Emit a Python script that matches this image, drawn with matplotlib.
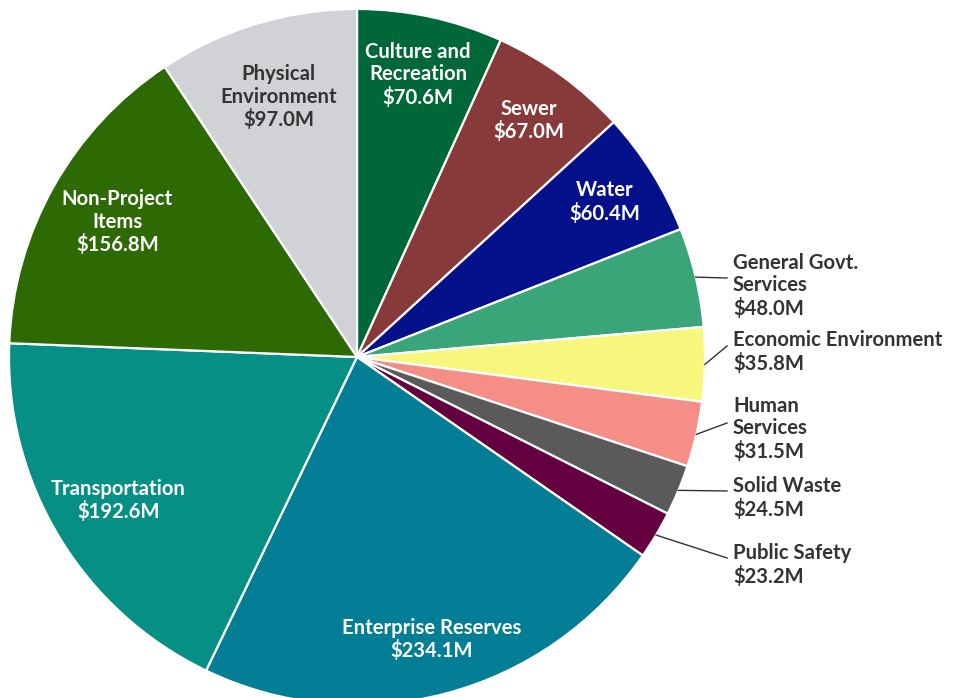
import matplotlib.pyplot as plt
import numpy as np

# capital budget by program area ($ millions), clockwise from 12 o'clock
categories = ["Culture and\nRecreation", "Sewer", "Water", "General Govt.\nServices",
              "Economic Environment", "Human\nServices", "Solid Waste", "Public Safety",
              "Enterprise Reserves", "Transportation", "Non-Project\nItems",
              "Physical\nEnvironment"]
values = [70.6, 67.0, 60.4, 48.0, 35.8, 31.5, 24.5, 23.2, 234.1, 192.6, 156.8, 97.0]
colors = ["#006838", "#873a39", "#05108b", "#3ba57a", "#f7f77d", "#f48e86",
          "#5a5a5a", "#650040", "#047d96", "#068f85", "#2d6a04", "#d1d2d6"]

# which slices get their label outside with a leader line
outside = [False, False, False, True, True, True, True, True,
           False, False, False, False]
# radial position of inside labels (fraction of radius)
inner_r = [0.83, 0.84, 0.84, 0, 0, 0, 0, 0, 0.84, 0.80, 0.79, 0.78]
label_color = ["white"] * 11 + ["#333333"]
# leader line end (x, y) and text top-left for outside labels, in pixels from top
leader_end = {3: (727, 278), 4: (727, 346), 5: (727, 423), 6: (727, 491), 7: (727, 558)}
text_top = {3: 253, 4: 330, 5: 396, 6: 476, 7: 543}

W, H = 958, 698
cx, cy, R = 357, 357, 348

fig = plt.figure(figsize=(W / 100, H / 100), dpi=100)
ax = fig.add_axes([0, 0, 1, 1])

wedges, _ = ax.pie(values, colors=colors, startangle=90, counterclock=False,
                   radius=R, center=(cx, H - cy),
                   wedgeprops=dict(edgecolor="white", linewidth=1.6))
ax.set_xlim(0, W)
ax.set_ylim(0, H)
ax.set_aspect("equal")
ax.axis("off")

font = dict(family=["Lato", "DejaVu Sans"], fontweight="bold", fontsize=14.6)

for i, w in enumerate(wedges):
    mid = np.deg2rad((w.theta1 + w.theta2) / 2)
    label = f"{categories[i]}\n${values[i]:.1f}M"
    if not outside[i]:
        r = inner_r[i] * R
        x = cx + r * np.cos(mid)
        y = (H - cy) + r * np.sin(mid)
        ax.text(x, y, label, color=label_color[i], ha="center", va="center",
                linespacing=1.15, **font)
    else:
        ex = cx + R * np.cos(mid)
        ey = (H - cy) + R * np.sin(mid)
        lx, ly = leader_end[i]
        ax.plot([ex, lx], [ey, H - ly], color="#333333", lw=1.0)
        ax.text(733, H - text_top[i], label, color="#333333", ha="left", va="top",
                linespacing=1.15, **font)

fig.savefig("out.png", dpi=100)
